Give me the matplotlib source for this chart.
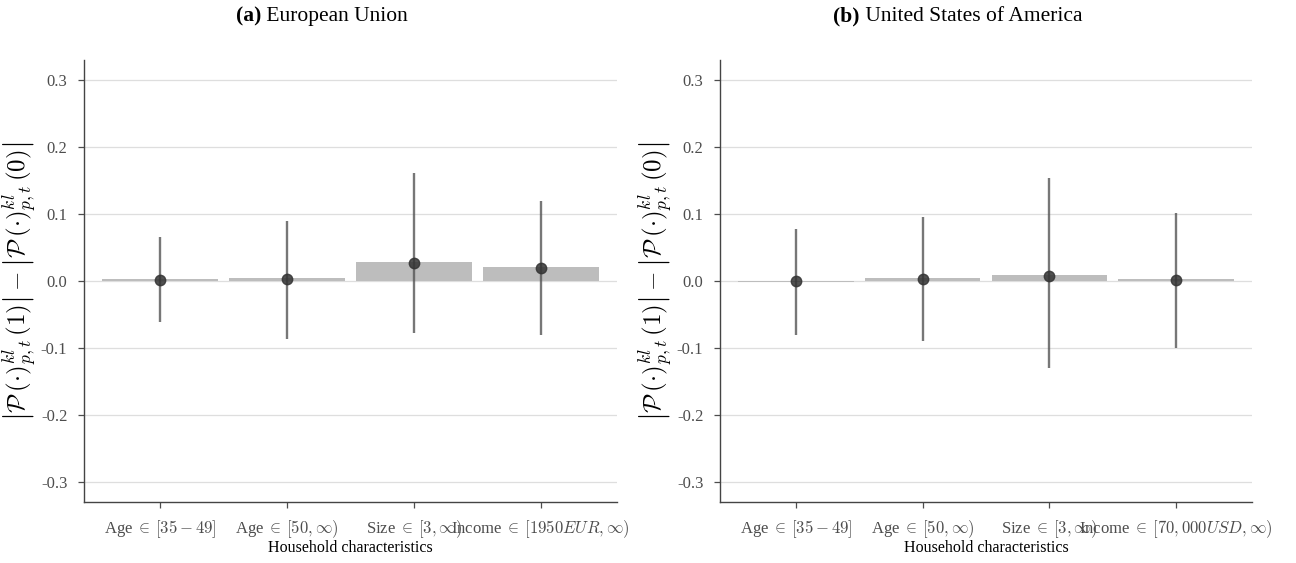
import numpy as np
import matplotlib
matplotlib.use("Agg")
import matplotlib.pyplot as plt

plt.rcParams['font.family'] = ['Liberation Serif', 'DejaVu Serif']
plt.rcParams['mathtext.fontset'] = 'cm'

# data
eu_labels = [r'Age ${\in}\,[35-49]$', r'Age ${\in}\,[50,\infty)$',
             r'Size ${\in}\,[3,\infty)$', r'Income ${\in}\,[1950EUR,\infty)$']
us_labels = [r'Age ${\in}\,[35-49]$', r'Age ${\in}\,[50,\infty)$',
             r'Size ${\in}\,[3,\infty)$', r'Income ${\in}\,[70,000USD,\infty)$']

eu_bar = [0.003, 0.005, 0.029, 0.021]
eu_point = [0.0015, 0.0035, 0.027, 0.020]
eu_low = [-0.061, -0.086, -0.077, -0.080]
eu_high = [0.065, 0.090, 0.161, 0.119]

us_bar = [-0.002, 0.005, 0.009, 0.003]
us_point = [-0.0005, 0.0035, 0.0075, 0.002]
us_low = [-0.080, -0.089, -0.130, -0.100]
us_high = [0.078, 0.096, 0.154, 0.102]

yticks = [-0.3, -0.2, -0.1, 0.0, 0.1, 0.2, 0.3]
ylab = (r'$\left|\mathcal{P}\,(\cdot)^{kl}_{p,t}\,(1)\right|'
        r' - \left|\mathcal{P}\,(\cdot)^{kl}_{p,t}\,(0)\right|$')

fig = plt.figure(figsize=(12.96, 5.63), dpi=100)
ax1 = fig.add_axes([84/1296, 61/563, 533/1296, 442/563])
ax2 = fig.add_axes([720/1296, 61/563, 532/1296, 442/563])


def panel(ax, labels, bar, point, low, high):
    x = np.arange(len(labels))
    ax.set_axisbelow(True)
    ax.grid(axis='y', color='#dedede', linewidth=0.9)
    ax.bar(x, bar, width=0.91, color='#bdbdbd', zorder=2)
    ax.vlines(x, low, high, color='#555555', linewidth=1.7, alpha=0.8, zorder=3)
    ax.plot(x, point, 'o', color='#333333', markersize=7.5, alpha=0.85, zorder=4)
    ax.set_xlim(-0.6, 3.6)
    ax.set_ylim(-0.33, 0.33)
    ax.set_yticks(yticks)
    ax.set_yticklabels(['%.1f' % v for v in yticks])
    ax.set_xticks(x)
    ax.set_xticklabels(labels)
    for s in ['top', 'right']:
        ax.spines[s].set_visible(False)
    for s in ['left', 'bottom']:
        ax.spines[s].set_color('#444444')
        ax.spines[s].set_linewidth(1.0)
    ax.tick_params(axis='both', colors='#4d4d4d', labelsize=12, length=4,
                   width=0.9, pad=8)
    ax.set_xlabel('Household characteristics', fontsize=11.5, color='black', labelpad=0)
    ax.set_ylabel(ylab, fontsize=18, labelpad=1)


panel(ax1, eu_labels, eu_bar, eu_point, eu_low, eu_high)
panel(ax2, us_labels, us_bar, us_point, us_low, us_high)


def title(xc, tag, name):
    a = fig.text(0, 0.971, tag, fontsize=15.5, fontweight='bold', va='center', ha='left')
    b = fig.text(0, 0.971, ' ' + name, fontsize=15.5, va='center', ha='left')
    fig.canvas.draw()
    r = fig.canvas.get_renderer()
    wa = a.get_window_extent(r).width / 1296
    wb = b.get_window_extent(r).width / 1296
    x0 = xc / 1296 - (wa + wb) / 2
    a.set_x(x0)
    b.set_x(x0 + wa)


title(322, '(a)', 'European Union')
title(958, '(b)', 'United States of America')

fig.savefig('out.png', dpi=100)
